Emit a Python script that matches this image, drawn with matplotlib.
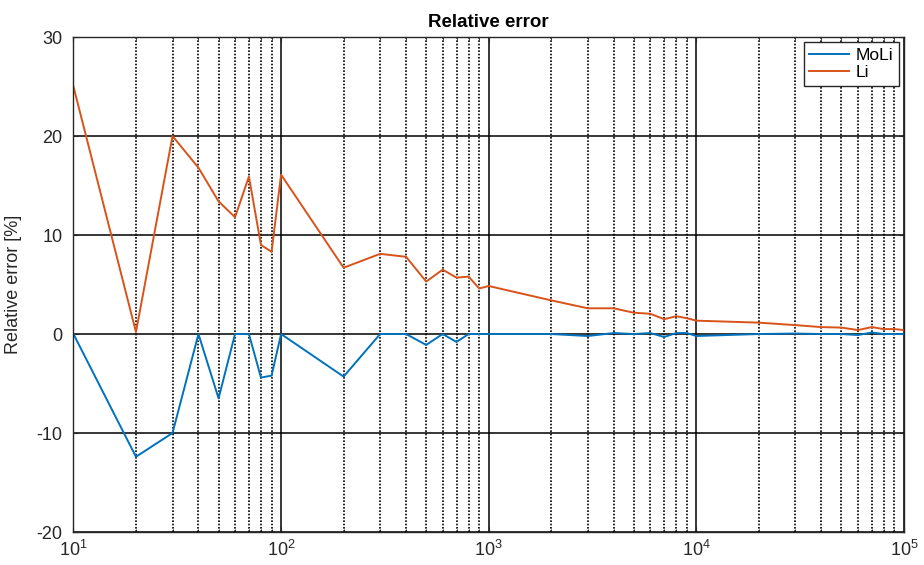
import matplotlib
matplotlib.use("Agg")
import matplotlib.pyplot as plt
from matplotlib.ticker import LogLocator, NullFormatter

plt.rcParams['font.family'] = ['Liberation Sans', 'DejaVu Sans']
plt.rcParams['axes.unicode_minus'] = False

x = [10, 20, 30, 40, 50, 60, 70, 80, 90,
     100, 200, 300, 400, 500, 600, 700, 800, 900,
     1000, 2000, 3000, 4000, 5000, 6000, 7000, 8000, 9000,
     10000, 20000, 30000, 40000, 50000, 60000, 70000, 80000, 90000,
     100000]
moli = [0, -12.4, -10.0, 0, -6.5, 0, 0, -4.4, -4.2,
        0, -4.3, 0, 0, -1.1, 0, -0.8, 0, 0,
        0, 0, -0.2, 0.1, 0, 0.1, -0.3, 0.1, 0.1,
        -0.2, 0, 0.05, 0, 0, -0.1, 0.15, 0, 0,
        0]
li = [25.0, 0.2, 20.0, 16.8, 13.4, 11.8, 15.9, 9.0, 8.3,
      16.1, 6.7, 8.1, 7.8, 5.3, 6.5, 5.7, 5.8, 4.6,
      4.85, 3.4, 2.6, 2.6, 2.15, 2.05, 1.5, 1.8, 1.6,
      1.35, 1.15, 0.9, 0.7, 0.65, 0.4, 0.7, 0.5, 0.5,
      0.4]
yticks = [-20, -10, 0, 10, 20, 30]

fig = plt.figure(figsize=(9.24, 5.65), dpi=100)
ax = fig.add_axes([0.0795, 0.0584, 0.8988, 0.876])

ax.set_xscale('log')
ax.set_xlim(10, 1e5)
ax.set_ylim(-20, 30)
ax.set_yticks(yticks)
ax.xaxis.set_minor_locator(LogLocator(base=10, subs=range(2, 10)))
ax.xaxis.set_minor_formatter(NullFormatter())

ax.grid(True, which='major', color='black', linewidth=1.1, linestyle='-')
ax.grid(True, which='minor', axis='x', color='black', linewidth=1.2, linestyle=(0, (1, 1)))
ax.set_axisbelow(True)

ax.plot(x, moli, color='#0072BD', linewidth=1.4, label='MoLi')
ax.plot(x, li, color='#D95319', linewidth=1.4, label='Li')

for s in ax.spines.values():
    s.set_color('#262626')
    s.set_linewidth(1.0)
ax.tick_params(which='both', direction='in', top=True, right=True, labelsize=13, colors='#262626')
ax.tick_params(axis='y', pad=8)
ax.tick_params(axis='x', pad=6)

ax.set_title('Relative error', fontsize=13.5, fontweight='bold', pad=7)
ax.set_ylabel('Relative error [%]', fontsize=13, color='#262626', labelpad=10)

leg = ax.legend(loc='upper right', fontsize=12.5, fancybox=False, framealpha=1,
                edgecolor='#262626', borderaxespad=0.3, handlelength=2.3,
                handletextpad=0.4, labelspacing=0.15, borderpad=0.3)
leg.get_frame().set_linewidth(1.0)

fig.savefig('out.png', dpi=100)
